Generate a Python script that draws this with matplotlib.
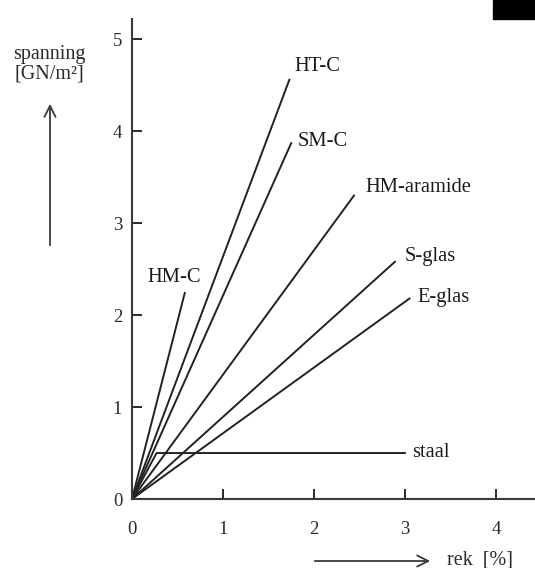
import matplotlib
matplotlib.use('Agg')
import matplotlib.pyplot as plt
from matplotlib.patches import Rectangle

plt.rcParams['font.family'] = ['Liberation Serif', 'DejaVu Serif']

# eindpunten van de lijnen (rek [%], spanning [GN/m2])
names = ['HM-C', 'HT-C', 'SM-C', 'HM-aramide', 'S-glas', 'E-glas']
rek_end = [0.58, 1.73, 1.75, 2.44, 2.89, 3.05]
span_end = [2.24, 4.56, 3.87, 3.30, 2.58, 2.18]
label_x = [0.165, 1.79, 1.82, 2.57, 3.00, 3.14]
label_y = [2.36, 4.65, 3.84, 3.34, 2.59, 2.14]

staal_rek = [0, 0.27, 3.0]
staal_span = [0, 0.5, 0.5]

fig = plt.figure(figsize=(5.35, 5.68), dpi=100)
ax = fig.add_axes([132/535, 69/568, 1 - 132/535, (499 - 19)/568])
col = '#222222'
for n, x, y in zip(names, rek_end, span_end):
    ax.plot([0, x], [0, y], color=col, lw=1.4)
ax.plot(staal_rek, staal_span, color=col, lw=1.4)
for n, x, y in zip(names, label_x, label_y):
    ax.text(x, y, n, fontsize=14.8, color='#1a1a1a', va='baseline', ha='left')
ax.text(3.08, 0.46, 'staal', fontsize=14.8, color='#1a1a1a', va='baseline', ha='left')

ax.set_xlim(0, 4.43)
ax.set_ylim(0, 5.22)
ax.set_xticks([0, 1, 2, 3, 4])
ax.set_yticks([0, 1, 2, 3, 4, 5])
ax.tick_params(direction='in', length=7, width=1.4, colors='#2a2a2a', labelsize=13.5)
ax.tick_params(axis='x', pad=16)
ax.tick_params(axis='y', pad=7)
for s in ['top', 'right']:
    ax.spines[s].set_visible(False)
for s in ['left', 'bottom']:
    ax.spines[s].set_color('#3a3a3a')
    ax.spines[s].set_linewidth(1.5)

fig.text(13/535, 1 - 64/568, 'spanning\n[GN/m²]', fontsize=14.5, color='#2a2a2a',
         ha='left', va='center', multialignment='center', linespacing=1.05)
fig.patches.append(Rectangle((493/535, 1 - 19/568), 42/535, 19/568, transform=fig.transFigure,
                             color='black', zorder=10))
ax.annotate('', xy=(50/535, 1 - 101/568), xytext=(50/535, 1 - 248/568), xycoords='figure fraction',
            arrowprops=dict(arrowstyle='->', color='#3a3a3a', lw=1.3, mutation_scale=20))
ax.annotate('', xy=(433/535, 1 - 561/568), xytext=(312/535, 1 - 561/568), xycoords='figure fraction',
            arrowprops=dict(arrowstyle='->', color='#3a3a3a', lw=1.3, mutation_scale=20))
fig.text(447/535, 1 - 564/568, 'rek  [%]', fontsize=14.5, color='#2a2a2a', ha='left', va='baseline')

fig.savefig('out.png', dpi=100)
